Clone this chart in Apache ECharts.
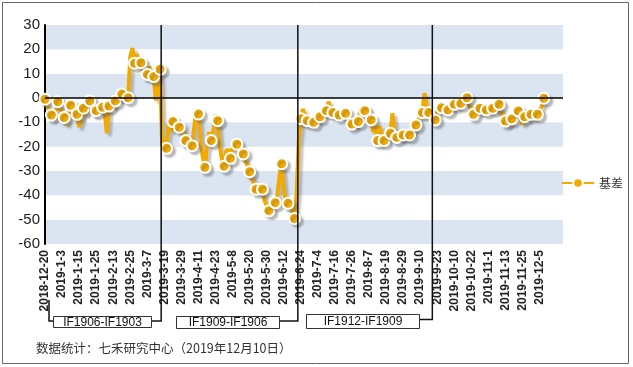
<!DOCTYPE html>
<html><head><meta charset="utf-8">
<script src="https://cdn.jsdelivr.net/npm/echarts@6/dist/echarts.min.js"></script>
<style>html,body{margin:0;padding:0;background:#fff}#c{width:633px;height:367px}</style>
</head><body><div id="c"></div>
<script>
// trading days per month (category axis)
const days2018_12 = [20,21,24,25,26,27,28];
const days2019_01 = [2,3,4,7,8,9,10,11,14,15,16,17,18,21,22,23,24,25,28,29,30,31];
const days2019_02 = [1,11,12,13,14,15,18,19,20,21,22,25,26,27,28];
const days2019_03 = [1,4,5,6,7,8,11,12,13,14,15,18,19,20,21,22,25,26,27,28,29];
const days2019_04 = [1,2,3,4,8,9,10,11,12,15,16,17,18,19,22,23,24,25,26,29,30];
const days2019_05 = [6,7,8,9,10,13,14,15,16,17,20,21,22,23,24,27,28,29,30,31];
const days2019_06 = [3,4,5,6,10,11,12,13,14,17,18,19,20,21,24,25,26,27,28];
const days2019_07 = [1,2,3,4,5,8,9,10,11,12,15,16,17,18,19,22,23,24,25,26,29,30,31];
const days2019_08 = [1,2,5,6,7,8,9,12,13,14,15,16,19,20,21,22,23,26,27,28,29,30];
const days2019_09 = [2,3,4,5,6,9,10,11,12,16,17,18,19,20,23,24,25,26,27,30];
const days2019_10 = [8,9,10,11,14,15,16,17,18,21,22,23,24,25,28,29,30,31];
const days2019_11 = [1,4,5,6,7,8,11,12,13,14,15,18,19,20,21,22,25,26,27,28,29];
const days2019_12 = [2,3,4,5,6,9,10,11,12,13,16,17,18,19,20];

const months = [
  ['2018-12', days2018_12], ['2019-1', days2019_01], ['2019-2', days2019_02],
  ['2019-3', days2019_03], ['2019-4', days2019_04], ['2019-5', days2019_05],
  ['2019-6', days2019_06], ['2019-7', days2019_07], ['2019-8', days2019_08],
  ['2019-9', days2019_09], ['2019-10', days2019_10], ['2019-11', days2019_11],
  ['2019-12', days2019_12]
];
const categories = [];
months.forEach(([m, ds]) => ds.forEach(d => categories.push(m + '-' + d)));

// basis values (IF main contract basis)
const basisSeg1 = [-0.5,-3,-5.5,-7,-9,-6,-1.5,-4,-6.5,-8,-11,-7,-3,-5,-9,-6.7,-12,-9,-4.2,-7,
  -3.5,-1.2,-4,-7,-5.2,-3,-5,-3.8,-6,-14.5,-3.3,-2.5,-4,-1.2,0.5,-1,1.6,0.5,1,0.1,
  17,20.5,14.3,18,16,14.5,12,10.5,9.7,13,7,8.8,-1,5,11.8];
const basisSeg2 = [-21,-17,-20.7,-10,-14,-9.7,-13,-10.5,-12,-15,-13.5,-17.5,-18,-16.5,-19.6,-12,-4.5,-6.6,-18,-24,
  -28.5,-20,-14,-17.5,-13,-7,-9.3,-20,-25,-28,-22,-21,-24.8,-20.5,-18,-19,-21.5,-20,-23,-26,
  -27.5,-30.3,-33,-35,-37.5,-36,-38.5,-37.5,-42,-44.5,-46.3,-44,-41,-43,-40,-32,-27,-38,-42,-43.3,
  -44.5,-47,-49.5,-40,-18];
const basisSeg3 = [-8.5,-4.5,-7.5,-9.3,-11,-8.5,-10,-8,-6.5,-7.7,-6,-4,-5.2,-1.5,-4.5,-6,-5,-7.5,-7,-5.5,
  -7.5,-6.3,-8,-9.5,-10.7,-11.5,-8,-9.7,-4.5,-6,-5.2,-7,-8,-9,-14,-11,-17.5,-11.5,-16,-17.5,
  -15,-13,-14.5,-6.3,-14,-16.2,-15.5,-17,-15.2,-14.5,-16,-15.2,-14,-13,-11.1,-9,-7.5,-6,2,-3,
  -6,-5,-6.5,-9];
const basisSeg4 = [-6,-4.5,-4,-3.5,-5,-4.9,-3.5,-4,-2.6,-1.5,-3,-2.2,-1,0.5,0.1,-3,-5,-6.7,-5,-3.5,
  -4.2,-6,-5.5,-4.9,-3.5,-5,-4.2,-3,-6,-2.6,-5,-8,-9.5,-11.5,-10,-8.6,-7,-6,-5.3,-8,
  -11,-7.7,-9,-7.5,-6.7,-8,-7,-6.7,-5,-3.5,-0.1,0.5];
const basis = basisSeg1.concat(basisSeg2, basisSeg3, basisSeg4);

const seriesName = '基差';
const yMin = -60, yMax = 30, yStep = 10;
const contractLabels = ['IF1906-IF1903', 'IF1909-IF1906', 'IF1912-IF1909'];
const rollIndex = [54.5, 118.6, 181.7];
const footnote = '数据统计：七禾研究中心（2019年12月10日）';

const ORANGE = '#F2A900';
const chart = echarts.init(document.getElementById('c'), null, {renderer: 'canvas'});
chart.setOption({
  animation: false,
  backgroundColor: '#fff',
  grid: {left: 45, right: 70, top: 25, bottom: 123},
  legend: {
    left: 556, top: 172, itemWidth: 32, itemHeight: 12, itemGap: 6,
    textStyle: {fontSize: 12, color: '#333', fontFamily: 'Noto Sans CJK SC'},
    data: [seriesName]
  },
  xAxis: {
    type: 'category', data: categories, boundaryGap: false,
    axisLine: {show: false}, axisTick: {show: false}, splitLine: {show: false},
    axisLabel: {
      rotate: 90, fontSize: 12, color: '#222', fontWeight: 'bold', margin: 6,
      fontFamily: 'Liberation Sans',
      interval: (i) => i % 8 === 0 && i <= 232
    }
  },
  yAxis: {
    type: 'value', min: yMin, max: yMax, interval: yStep,
    axisLine: {show: true, lineStyle: {color: '#000', width: 2}},
    axisTick: {show: false},
    axisLabel: {fontSize: 15, color: '#222', margin: 5, fontFamily: 'Liberation Sans'},
    splitLine: {show: false},
    splitArea: {show: true, areaStyle: {color: ['#dbe5f1', '#ffffff']}}
  },
  series: [
    {
      type: 'line', name: '__zero', data: [], silent: true, z: 1,
      markLine: {silent: true, symbol: 'none', label: {show: false},
        lineStyle: {color: '#000', width: 1.5, type: 'solid'},
        data: [{yAxis: 0}]}
    },
    {
      type: 'line', name: seriesName, data: basis, z: 3,
      showAllSymbol: true, symbol: 'circle',
      symbolSize: (v, p) => (p.dataIndex % 3 === 0 ? 11 : 0),
      lineStyle: {color: ORANGE, width: 4, shadowColor: 'rgba(90,90,90,0.35)', shadowBlur: 2, shadowOffsetX: 3, shadowOffsetY: 3},
      itemStyle: {color: ORANGE, borderColor: '#fff', borderWidth: 2, shadowColor: 'rgba(90,90,90,0.35)', shadowBlur: 2, shadowOffsetX: 3, shadowOffsetY: 3}
    }
  ]
});

function xAt(i) {
  const a = Math.floor(i), b = Math.ceil(i);
  const pa = chart.convertToPixel({xAxisIndex: 0}, a);
  const pb = chart.convertToPixel({xAxisIndex: 0}, b);
  return pa + (pb - pa) * (i - a);
}
const yTop = chart.convertToPixel({yAxisIndex: 0}, yMax);
const boxes = [
  {x1: 53, x2: 151, y1: 316, y2: 327, cy: 321},
  {x1: 176, x2: 279, y1: 316, y2: 328, cy: 321},
  {x1: 306, x2: 419, y1: 314, y2: 328, cy: 319.5}
];
const g = [];
const lineStyle = {stroke: '#111', lineWidth: 1.5, fill: null};
rollIndex.forEach((r, k) => {
  const x = xAt(r), b = boxes[k];
  g.push({type: 'polyline', shape: {points: [[x, yTop], [x, b.cy], [b.x2, b.cy]]}, style: lineStyle, z: 50});
  g.push({type: 'rect', shape: {x: b.x1 + 0.5, y: b.y1 + 0.5, width: b.x2 - b.x1, height: b.y2 - b.y1},
    style: {fill: '#fff', stroke: '#333', lineWidth: 1}, z: 51});
  g.push({type: 'text', x: (b.x1 + b.x2) / 2 + 0.5, y: (b.y1 + b.y2) / 2 + 1, z: 52,
    style: {text: contractLabels[k], fill: '#111', font: '12px "Liberation Sans"', align: 'center', verticalAlign: 'middle'}});
});
g.push({type: 'polyline', shape: {points: [[49, 300], [49, 321], [53, 321]]}, style: lineStyle, z: 50});
g.push({type: 'text', x: 36, y: 348, z: 52,
  style: {text: footnote, fill: '#333', font: '12.5px "Noto Sans CJK SC"', verticalAlign: 'middle'}});
g.push({type: 'rect', shape: {x: 2.5, y: 2.5, width: 626, height: 361},
  style: {fill: null, stroke: '#666', lineWidth: 1}, z: 0, silent: true});
chart.setOption({graphic: g});
</script>
</body></html>
